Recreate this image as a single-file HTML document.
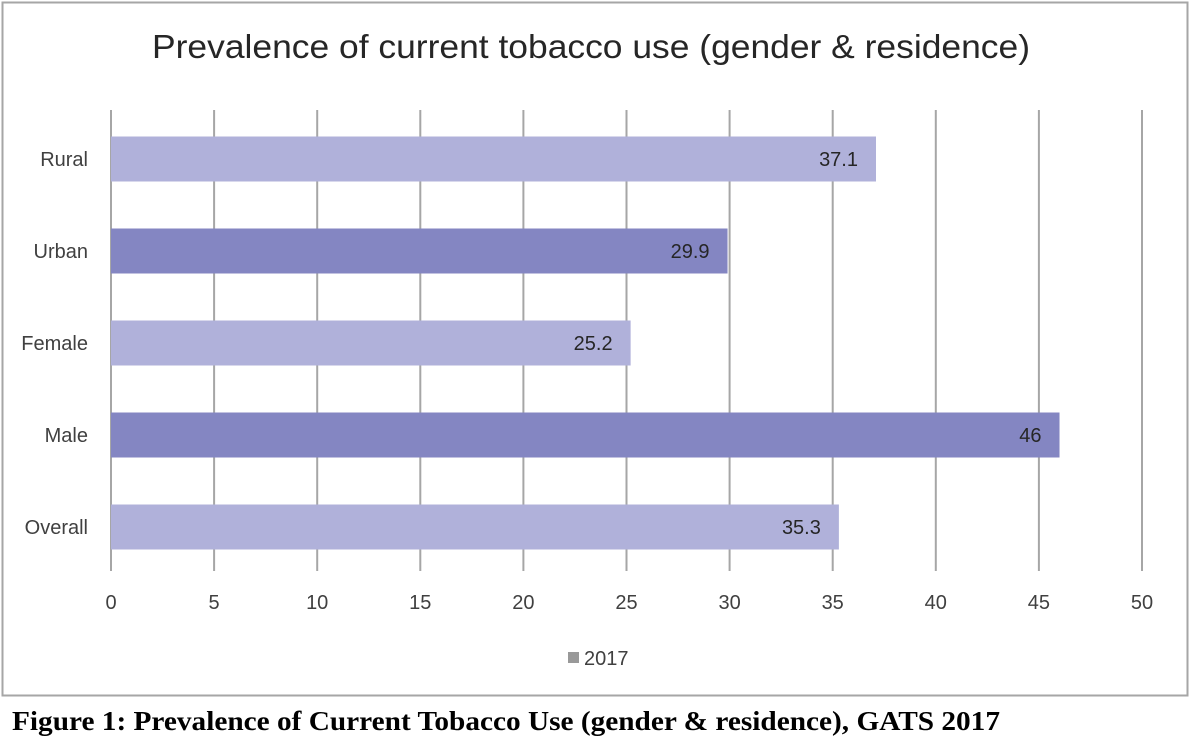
<!DOCTYPE html>
<html><head><meta charset="utf-8"><style>
body{margin:0;width:1190px;height:743px;background:#fff;overflow:hidden}
svg{display:block}
</style></head><body>
<svg width="1190" height="743">
<rect x="2.5" y="2.5" width="1185" height="693" fill="#fff" stroke="#a6a6a6" stroke-width="2"/>
<text x="152" y="58" textLength="878" lengthAdjust="spacingAndGlyphs" font-family="Liberation Sans, sans-serif" font-size="33" fill="#262626">Prevalence of current tobacco use (gender &amp; residence)</text>
<g id="grid"></g><g id="bars"></g><g id="labels"></g>
<rect x="568" y="652" width="11" height="11" fill="#999"/>
<text x="584" y="665" font-family="Liberation Sans, sans-serif" font-size="20" fill="#404040">2017</text>
<text x="12" y="730" textLength="988" lengthAdjust="spacingAndGlyphs" font-family="Liberation Serif, serif" font-weight="bold" font-size="27" fill="#000">Figure 1: Prevalence of Current Tobacco Use (gender &amp; residence), GATS 2017</text>
</svg>
<script>
const categories=["Rural","Urban","Female","Male","Overall"];
const values=[37.1,29.9,25.2,46,35.3];
const ticks=[0,5,10,15,20,25,30,35,40,45,50];
const ns="http://www.w3.org/2000/svg";
const x=v=>111+v*(1142-111)/50;
const yc=i=>159+i*92;
function mk(t,a,p){const e=document.createElementNS(ns,t);for(const k in a)e.setAttribute(k,a[k]);p.appendChild(e);return e;}
const g=document.getElementById('grid'),b=document.getElementById('bars'),l=document.getElementById('labels');
ticks.forEach(t=>{
 const ln=mk('line',{x1:x(t),x2:x(t),y1:110,y2:571,stroke:'#a6a6a6','stroke-width':2},g);
 
 
 const tx=mk('text',{x:x(t),y:609,'text-anchor':'middle','font-family':'Liberation Sans, sans-serif','font-size':20,fill:'#404040'},l);
 tx.textContent=t;
 
 
});
categories.forEach((c,i)=>{
 const r=mk('rect',{x:x(0),y:yc(i)-22.5,width:x(values[i])-x(0),height:45,fill:(i%2?'#8486c2':'#b0b1da')},b);
 
 
 const v=mk('text',{x:x(values[i])-18,y:yc(i)+7,'text-anchor':'end','font-family':'Liberation Sans, sans-serif','font-size':20,fill:'#262626'},l);
 v.textContent=values[i];
 
 
 const cl=mk('text',{x:88,y:yc(i)+7,'text-anchor':'end','font-family':'Liberation Sans, sans-serif','font-size':20,fill:'#404040'},l);
 cl.textContent=c;
 
 
});
</script>
</body></html>
